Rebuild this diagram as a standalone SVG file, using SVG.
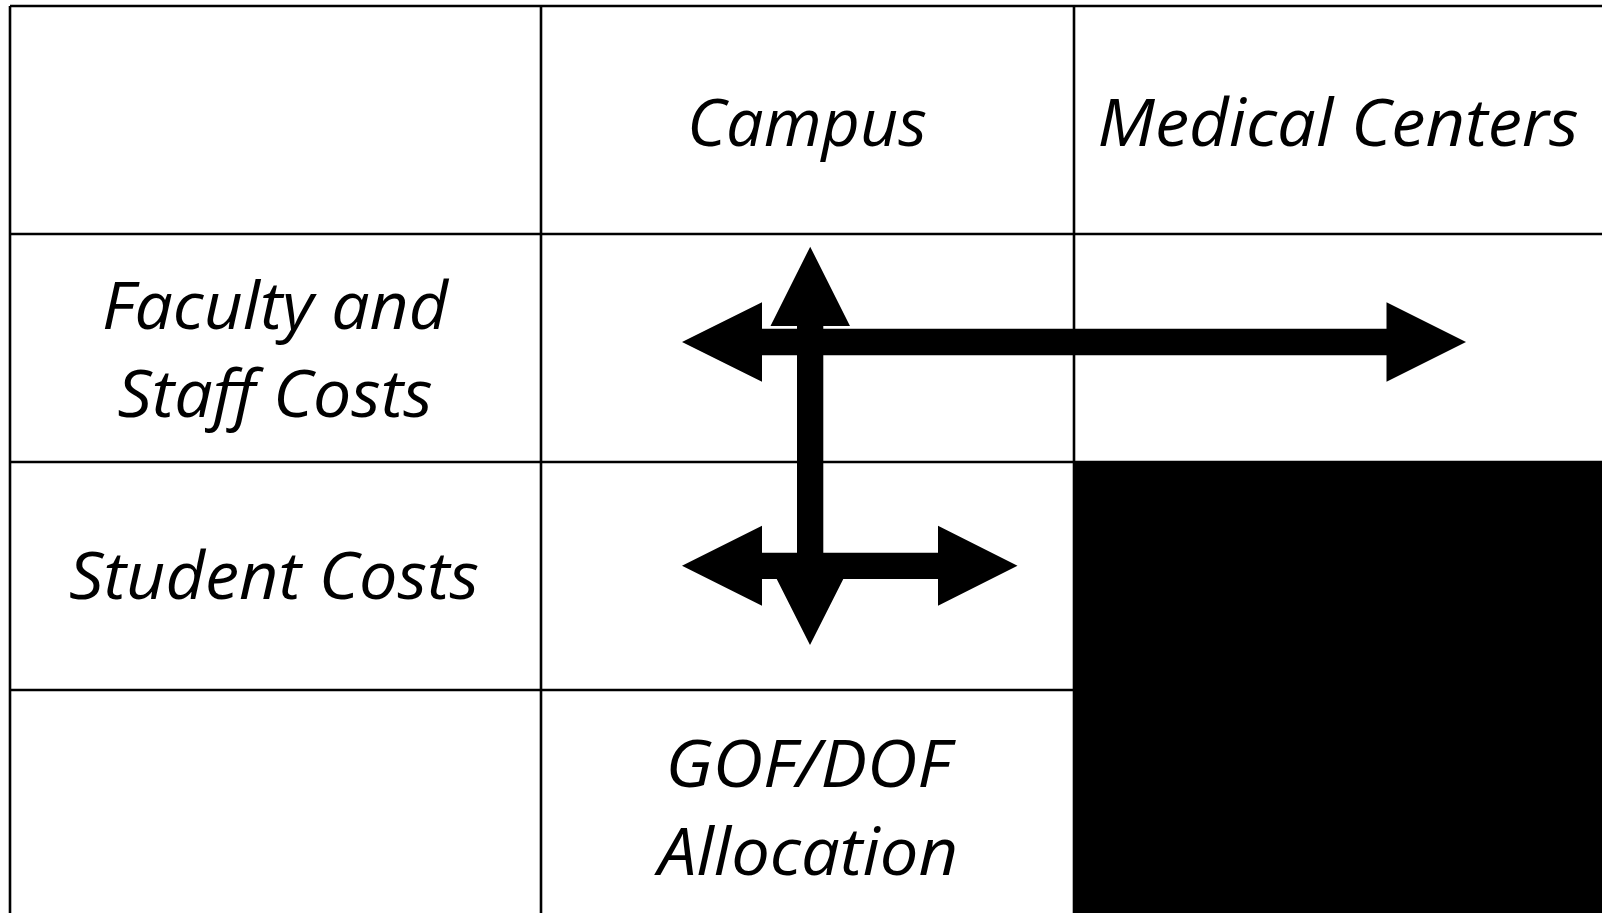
<svg xmlns="http://www.w3.org/2000/svg" width="1602" height="913" viewBox="0 0 1602 913">
  <style>
    .grid line { stroke: #000; stroke-width: 2.6; }
    .lbl { font-family: "Open Sans", "Noto Sans", sans-serif; font-style: italic; font-size: 66px; fill: #000; text-anchor: middle; }
    .arrow { fill: #000; stroke: none; }
  </style>
  <rect x="0" y="0" width="1602" height="913" fill="#fff"/>
  <g id="grid" class="grid">
    <line x1="10" y1="6" x2="1602" y2="6"/>
    <line x1="10" y1="234" x2="1602" y2="234"/>
    <line x1="10" y1="462" x2="1602" y2="462"/>
    <line x1="10" y1="690" x2="1074" y2="690"/>
    <line x1="10" y1="6" x2="10" y2="913"/>
    <line x1="541" y1="6" x2="541" y2="913"/>
    <line x1="1074" y1="6" x2="1074" y2="913"/>
  </g>
  <g id="blocked-cell">
    <rect x="1074" y="462" width="528" height="451" fill="#000"/>
  </g>
  <g id="header-campus">
    <text class="lbl" x="807" y="146" textLength="240" lengthAdjust="spacingAndGlyphs">Campus</text>
  </g>
  <g id="header-medical-centers">
    <text class="lbl" x="1338" y="146" textLength="481" lengthAdjust="spacingAndGlyphs">Medical Centers</text>
  </g>
  <g id="row-faculty-staff">
    <text class="lbl" x="275" y="329" textLength="346" lengthAdjust="spacingAndGlyphs">Faculty and</text>
    <text class="lbl" x="275" y="417" textLength="315" lengthAdjust="spacingAndGlyphs">Staff Costs</text>
  </g>
  <g id="row-student">
    <text class="lbl" x="274" y="599" textLength="410" lengthAdjust="spacingAndGlyphs">Student Costs</text>
  </g>
  <g id="gof-dof">
    <text class="lbl" x="808" y="787" textLength="285" lengthAdjust="spacingAndGlyphs">GOF/DOF</text>
    <text class="lbl" x="808" y="875" textLength="300" lengthAdjust="spacingAndGlyphs">Allocation</text>
  </g>
  <g id="connectors">
    <polygon class="arrow" points="682,342 762,302.3 762,328.7 1386.5,328.7 1386.5,302.3 1466,342 1386.5,381.7 1386.5,355.3 762,355.3 762,381.7"/>
    <polygon class="arrow" points="810.2,246.7 850,326 823.3,326 823.3,579 797,579 797,326 770.5,326"/>
    <polygon class="arrow" points="682,565.8 762,525.8 762,552.7 938,552.7 938,525.8 1017.5,565.8 938,605.8 938,579 843.3,579 810,645 776.7,579 762,579 762,605.8"/>
  </g>
</svg>
